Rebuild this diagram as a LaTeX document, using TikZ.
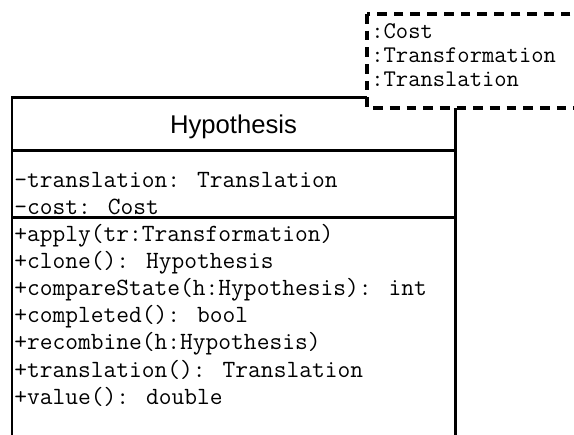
\documentclass[tikz,border=0pt]{standalone}
\usepackage{fontspec}
\newfontfamily\headfont{Liberation Sans}
\tikzset{
  classline/.style={line width=1.7pt},
  tmplbox/.style={line width=2.2pt, dash pattern=on 5.5pt off 4pt, fill=white},
  member/.style={anchor=base west, inner sep=0pt, font=\ttfamily\fontsize{14.1}{16}\selectfont},
  tmplarg/.style={anchor=base west, inner sep=0pt, font=\ttfamily\fontsize{13.6}{16}\selectfont},
  classname/.style={inner sep=0pt, font=\headfont\fontsize{14.6}{17}\selectfont}
}
\begin{document}
\begin{tikzpicture}[x=0.02cm, y=-0.02cm]
        \useasboundingbox (0,0) rectangle (574,434);
        \clip (0,0) rectangle (574,434);

        % Draw the class box and its compartments
        \draw[classline] (12,97) rectangle (455,470);
        \draw[classline] (12,150) -- (455,150);
        \draw[classline] (12,217) -- (455,217);

        % Class name
        \node[classname] (name) at (233.5,127) {Hypothesis};

        % Attributes
        \node[member] (attrtr) at (14,187) {-translation: Translation};
        \node[member] (attrcost) at (14,214) {-cost: Cost};

        % Operations
        \node[member] (opapply) at (14,241) {+apply(tr:Transformation)};
        \node[member] (opclone) at (14,268) {+clone(): Hypothesis};
        \node[member] (opcompare) at (14,295) {+compareState(h:Hypothesis): int};
        \node[member] (opcompleted) at (14,322) {+completed(): bool};
        \node[member] (oprecombine) at (14,349) {+recombine(h:Hypothesis)};
        \node[member] (optrans) at (14,377) {+translation(): Translation};
        \node[member] (opvalue) at (14,404) {+value(): double};

        % Draw the template parameter box
        \draw[tmplbox] (367,14) rectangle (600,108);
        \node[tmplarg] (argcost) at (371,38) {:Cost};
        \node[tmplarg] (argtransf) at (371,62) {:Transformation};
        \node[tmplarg] (argtransl) at (371,86) {:Translation};
    \end{tikzpicture}
\end{document}
